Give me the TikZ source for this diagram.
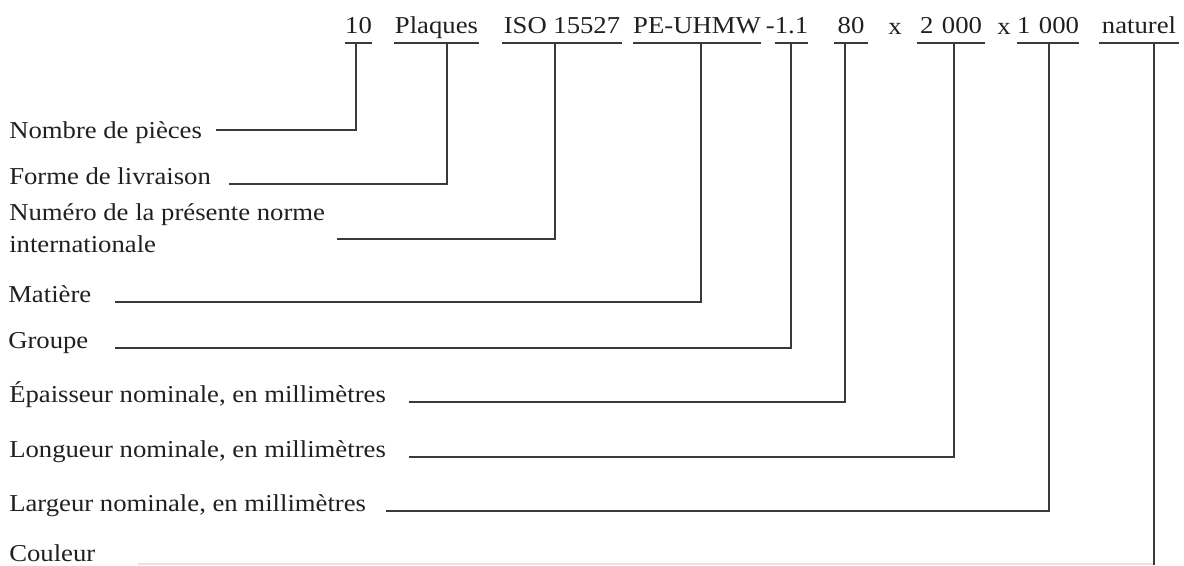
\documentclass[tikz,border=0pt]{standalone}
\usepackage{fontspec}
\setmainfont{Liberation Serif}[FakeStretch=1.1]
\usepackage{xcolor}
\usepackage{tikz}
\definecolor{ink}{HTML}{231F20}
\definecolor{wireln}{HTML}{3A3A3A}
\definecolor{faintln}{HTML}{E4E4E4}
\newcommand{\desigfont}{\fontsize{18.2pt}{24pt}\selectfont}
\tikzset{
  every node/.style={font=\desigfont,text=ink},
  lab/.style={anchor=base west,inner sep=0pt,align=left},
  val/.style={anchor=south,inner xsep=0pt,inner ysep=0pt,text depth=6.75pt,
              append after command={(\tikzlastnode.south west) edge[ul] (\tikzlastnode.south east)}},
  times/.style={anchor=base,inner sep=0pt},
  ul/.style={draw=wireln,line width=1pt},
  wire/.style={draw=wireln,line width=1pt},
  faintwire/.style={draw=faintln,line width=1pt},
}

\begin{document}
\begin{tikzpicture}[x=0.75pt,y=-0.75pt]
\useasboundingbox (0,0) rectangle (1184,565);

% designation line
\node[val,minimum width=20.25pt] (vNb)   at (358.5,43) {10};
\node[val,minimum width=63.75pt] (vForm) at (436.5,43) {Plaques};
\node[val,minimum width=90pt]    (vIso)  at (562,43)   {ISO 15527};
\node[val,minimum width=87pt]    (vMat)  at (697,43)   {PE-UHMW};
\node[val,minimum width=24.75pt] (vGrp)  at (791.5,43) {\llap{-}1.1};
\node[val,minimum width=25.5pt]  (vEp)   at (851,43)   {80};
\node[times] (xA) at (895,34) {x};
\node[val,minimum width=51pt]    (vLong) at (951,43)   {2\hspace{0.35em}000};
\node[times] (xB) at (1004,34) {x};
\node[val,minimum width=46.5pt]  (vLarg) at (1048,43)  {1\hspace{0.35em}000};
\node[val,minimum width=60pt]    (vCoul) at (1139,43)  {naturel};

% explanations
\node[lab] (nNb)   at (9,138) {Nombre de pièces};
\node[lab] (nForm) at (9,184) {Forme de livraison};
\node[lab] (nIso)  at (9,252) {Numéro de la présente norme\\internationale};
\node[lab] (nMat)  at (8,302) {Matière};
\node[lab] (nGrp)  at (8,348) {Groupe};
\node[lab] (nEp)   at (9,402) {Épaisseur nominale, en millimètres};
\node[lab] (nLong) at (9,457) {Longueur nominale, en millimètres};
\node[lab] (nLarg) at (9,511) {Largeur nominale, en millimètres};
\node[lab] (nCoul) at (9,561) {Couleur};

% corners and line starts
\coordinate (kNb)   at (356,130);  \coordinate (sNb)   at (216,130);
\coordinate (kForm) at (447,184);  \coordinate (sForm) at (229,184);
\coordinate (kIso)  at (555,239);  \coordinate (sIso)  at (337,239);
\coordinate (kMat)  at (701,302);  \coordinate (sMat)  at (115,302);
\coordinate (kGrp)  at (791,348);  \coordinate (sGrp)  at (115,348);
\coordinate (kEp)   at (845,402);  \coordinate (sEp)   at (409,402);
\coordinate (kLong) at (954,457);  \coordinate (sLong) at (409,457);
\coordinate (kLarg) at (1049,511); \coordinate (sLarg) at (386,511);
\coordinate (kCoul) at (1154,565); \coordinate (sCoul) at (138,564);

\draw[wire] (vNb.south -| kNb) -- (kNb) -- (sNb);
\draw[wire] (vForm.south -| kForm) -- (kForm) -- (sForm);
\draw[wire] (vIso.south -| kIso) -- (kIso) -- (sIso);
\draw[wire] (vMat.south -| kMat) -- (kMat) -- (sMat);
\draw[wire] (vGrp.south -| kGrp) -- (kGrp) -- (sGrp);
\draw[wire] (vEp.south -| kEp) -- (kEp) -- (sEp);
\draw[wire] (vLong.south -| kLong) -- (kLong) -- (sLong);
\draw[wire] (vLarg.south -| kLarg) -- (kLarg) -- (sLarg);
\draw[faintwire] (sCoul) -- (sCoul -| kCoul);
\draw[wire] (vCoul.south -| kCoul) -- (kCoul);
\end{tikzpicture}
\end{document}
